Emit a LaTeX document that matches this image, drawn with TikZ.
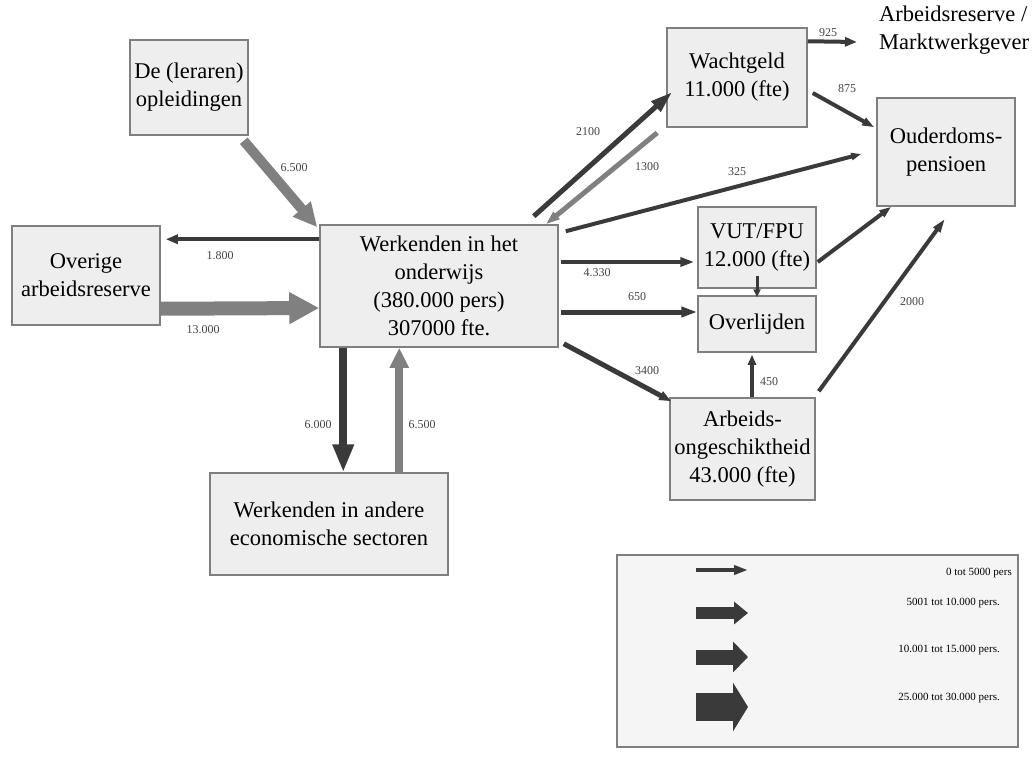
\documentclass[tikz,border=0pt]{standalone}
\usepackage{fontspec}
\setmainfont{Liberation Serif}
\usetikzlibrary{arrows.meta,calc}
\definecolor{boxfill}{HTML}{EEEEEE}
\definecolor{boxline}{HTML}{7F7F7F}
\definecolor{legfill}{HTML}{F5F5F5}
\definecolor{darkarr}{HTML}{3A3A3A}
\definecolor{grayarr}{HTML}{808080}
\definecolor{lbltext}{HTML}{444444}
\begin{document}
\begin{tikzpicture}[x=1pt,y=-1pt,
  box/.style={draw=boxline, fill=boxfill, line width=1.5pt, inner sep=0pt, align=center,
    font=\fontsize{22.5}{28}\selectfont},
  lbl/.style={font=\fontsize{12}{14}\selectfont, text=lbltext, inner sep=1pt},
  leglbl/.style={font=\fontsize{11}{13}\selectfont, text=black, inner sep=0pt, anchor=east},
  fd/.style n args={3}{draw=darkarr, line width=#1, -{Triangle[length=#2, width=#3]}},
  fg/.style n args={3}{draw=grayarr, line width=#1, -{Triangle[length=#2, width=#3]}}]
\useasboundingbox (0,0) rectangle (1036,760);

% boxes
\node[box, minimum width=118pt, minimum height=95pt] (opl) at (189,87.5) {De (leraren)\\opleidingen};
\node[box, minimum width=148pt, minimum height=99pt] (ovr) at (86,275.5) {Overige\\arbeidsreserve};
\node[box, minimum width=238pt, minimum height=122pt] (ondw) at (439,286) {Werkenden in het\\onderwijs\\(380.000 pers)\\307000 fte.};
\node[box, minimum width=238pt, minimum height=102pt] (andere) at (329,524) {Werkenden in andere\\economische sectoren};
\node[box, minimum width=140pt, minimum height=99pt] (wacht) at (737,77.5) {Wachtgeld\\11.000 (fte)};
\node[box, minimum width=138pt, minimum height=108pt] (oud) at (946,152) {Ouderdoms-\\pensioen};
\node[box, minimum width=118pt, minimum height=81pt] (vut) at (757,247.5) {VUT/FPU\\12.000 (fte)};
\node[box, minimum width=118pt, minimum height=56pt] (overl) at (757,324) {Overlijden};
\node[box, minimum width=145pt, minimum height=102pt] (arb) at (742.5,449) {Arbeids-\\ongeschiktheid\\43.000 (fte)};
\node[align=left, anchor=north west, inner sep=0pt, font=\fontsize{22.5}{28}\selectfont] (arbres) at (879,6) {Arbeidsreserve /\\Marktwerkgever};
\coordinate (mw) at (857,42);

% flows
\draw[fg={10pt}{24pt}{22pt}] ($(opl.south east)+(-5,5)$) -- ($(ondw.north west)+(-2,3)$);
\draw[fd={4pt}{12pt}{9pt}] ($(ondw.north west)+(0,15)$) -- ($(ovr.north east)+(5,14)$);
\draw[fg={14pt}{30pt}{30pt}] ($(ovr.south east)+(0,-17)$) -- ($(ondw.west)+(0,22)$);
\draw[fd={8pt}{28pt}{20pt}] ($(ondw.south west)+(24,0)$) -- ($(andere.north west)+(134,0)$);
\draw[fg={8pt}{20pt}{18pt}] ($(andere.north west)+(190,0)$) -- ($(ondw.south west)+(80,0)$);
\draw[fd={5pt}{22pt}{13pt}] ($(ondw.north east)+(-25,-8)$) -- ($(wacht.west)+(6,14.5)$);
\draw[fg={5pt}{14pt}{9pt}] ($(wacht.south west)+(-9,5)$) -- ($(ondw.north east)+(-13,0)$);
\draw[fd={4pt}{10pt}{7pt}] ($(ondw.north east)+(7,7)$) -- ($(oud.west)+(-15,2)$);
\draw[fd={4pt}{14pt}{9pt}] ($(ondw.east)+(2,-24)$) -- ($(vut.west)+(-3,14.5)$);
\draw[fd={5pt}{16pt}{10pt}] ($(ondw.east)+(2,26)$) -- ($(overl.west)+(0,-12)$);
\draw[fd={5pt}{12pt}{9pt}] ($(ondw.south east)+(5,-4)$) -- ($(arb.north west)+(2,4)$);
\draw[fd={3pt}{8pt}{7pt}] ($(vut.south)+(0,-13)$) -- ($(overl.north)+(0,2)$);
\draw[fd={3.5pt}{10pt}{8pt}] ($(arb.north)+(9.5,0)$) -- ($(overl.south)+(-5,2)$);
\draw[fd={4pt}{12pt}{8pt}] ($(vut.east)+(1,14.5)$) -- ($(oud.south west)+(15,0)$);
\draw[fd={4pt}{14pt}{8pt}] ($(arb.north east)+(3,-6)$) -- ($(oud.south)+(-1,12)$);
\draw[fd={4pt}{12pt}{8pt}] ($(wacht.east)+(5,15.5)$) -- ($(oud.north west)+(-2,30)$);
\draw[fd={4pt}{12pt}{9pt}] ($(wacht.north east)+(0,14)$) -- (mw);

% flow labels
\node[lbl] (l1) at (294,168) {6.500};
\node[lbl] (l2) at (220,256) {1.800};
\node[lbl] (l3) at (203,330) {13.000};
\node[lbl] (l4) at (318,425) {6.000};
\node[lbl] (l5) at (422,425) {6.500};
\node[lbl] (l6) at (588,132) {2100};
\node[lbl] (l7) at (647,167) {1300};
\node[lbl] (l8) at (737,172) {325};
\node[lbl] (l9) at (597,273) {4.330};
\node[lbl] (l10) at (637,297) {650};
\node[lbl] (l11) at (647,371) {3400};
\node[lbl] (l12) at (769,382) {450};
\node[lbl] (l13) at (912,302) {2000};
\node[lbl] (l14) at (847,89) {875};
\node[lbl] (l15) at (828,33) {925};

% legend
\node[draw=boxline, fill=legfill, line width=1.5pt, minimum width=401pt, minimum height=192pt, inner sep=0pt] (legend) at (817.5,651) {};
\coordinate (ls1) at (696,570); \coordinate (le1) at (748,570);
\coordinate (ls2) at (696,613); \coordinate (le2) at (748,613);
\coordinate (ls3) at (696,657); \coordinate (le3) at (748,657);
\coordinate (ls4) at (696,707); \coordinate (le4) at (748,707);
\draw[fd={4pt}{14pt}{9pt}] (ls1) -- (le1);
\draw[fd={12pt}{14pt}{22pt}] (ls2) -- (le2);
\draw[fd={15pt}{15pt}{30pt}] (ls3) -- (le3);
\draw[fd={28pt}{15pt}{48pt}] (ls4) -- (le4);
\node[leglbl] (g1) at (1012,573) {0 tot 5000 pers};
\node[leglbl] (g2) at (1000,603) {5001 tot 10.000 pers.};
\node[leglbl] (g3) at (1000,650) {10.001 tot 15.000 pers.};
\node[leglbl] (g4) at (1000,698) {25.000 tot 30.000 pers.};
\end{tikzpicture}
\end{document}
